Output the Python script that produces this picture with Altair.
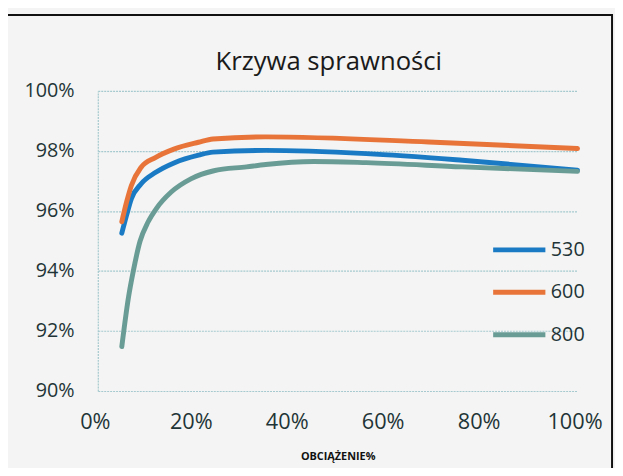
import altair as alt
import pandas as pd

# --- data ---
series_names = ["530", "600", "800"]
series_colors = ["#1a7bc4", "#e8743a", "#6a9c96"]

x530 = [5, 6, 7, 9, 12, 16, 21, 24, 35, 56, 76, 100]
y530 = [95.26, 95.86, 96.41, 96.9, 97.28, 97.61, 97.86, 97.96, 98.02, 97.91, 97.69, 97.36]

x600 = [5, 6, 7, 9, 12, 16, 21, 24, 35, 69, 100]
y600 = [95.64, 96.3, 96.85, 97.45, 97.78, 98.07, 98.29, 98.4, 98.47, 98.3, 98.08]

x800 = [5, 6.4, 7.4, 8.8, 10.5, 12.2, 15.3, 19.4, 24.2, 31, 35, 45, 56, 76, 100]
y800 = [91.48, 93.13, 94.0, 94.99, 95.64, 96.08, 96.63, 97.07, 97.34, 97.47, 97.55, 97.65, 97.61, 97.47, 97.32]

x_ticks = [0, 20, 40, 60, 80, 100]
y_ticks = [90, 92, 94, 96, 98, 100]

title_text = "Krzywa sprawności"
x_title = "OBCIĄŻENIE%"

rows = []
for name, xs, ys in zip(series_names, [x530, x600, x800], [y530, y600, y800]):
    for i, (xv, yv) in enumerate(zip(xs, ys)):
        rows.append({"seria": name, "obc": xv, "spr": yv, "i": i})
df = pd.DataFrame(rows)

FONT = "Open Sans"
TXT = "#1f3437"
GRID = "#a6c9cf"

lines = alt.Chart(df).mark_line(strokeWidth=5, interpolate="monotone", strokeCap="round").encode(
    x=alt.X("obc:Q", scale=alt.Scale(domain=[0, 100], nice=False),
            axis=alt.Axis(values=x_ticks, labelExpr="datum.value + '%'", title=x_title,
                          grid=False, domain=False, ticks=False,
                          labelFontSize=22, labelColor=TXT, labelFont=FONT,
                          labelPadding=21, labelOffset=-3, labelFlush=False,
                          titleFont=FONT, titleFontSize=11, titleFontWeight="bold",
                          titleColor="#111111", titleY=69, titleBaseline="alphabetic")),
    y=alt.Y("spr:Q", scale=alt.Scale(domain=[90, 100], nice=False, zero=False),
            axis=alt.Axis(values=y_ticks, labelExpr="datum.value + '%'", title=None,
                          grid=True, gridColor=GRID, gridDash=[2, 1], gridWidth=1.2,
                          domain=True, domainColor=GRID, domainDash=[2, 1], domainWidth=1.2,
                          ticks=False, labelFontSize=20, labelColor=TXT, labelFont=FONT,
                          labelPadding=24)),
    color=alt.Color("seria:N", scale=alt.Scale(domain=series_names, range=series_colors),
                    legend=alt.Legend(title=None, orient="none", legendX=398, legendY=132,
                                      symbolType="stroke", symbolSize=2800, symbolStrokeWidth=5,
                                      labelFontSize=20, labelFont=FONT, labelColor=TXT,
                                      labelOffset=3, rowPadding=4)),
    order="i:Q",
)

frame_df = pd.DataFrame({"f": [0]})
frame = alt.Chart(frame_df).mark_rect(filled=False, stroke="#111111", strokeWidth=2).encode(
    x=alt.value(-96), x2=alt.value(521), y=alt.value(-77), y2=alt.value(500)
)

chart = alt.layer(frame, lines).properties(
    width=486, height=304,
    autosize=alt.AutoSizeParams(type="none"),
    padding={"left": 91, "top": 81, "right": 38, "bottom": 75},
    background="#f3f4f3",
    title=alt.TitleParams(title_text, font=FONT, fontSize=26, fontWeight="normal",
                          color="#1a1a1a", anchor="middle", frame="group", dx=-9,
                          offset=-83, baseline="alphabetic"),
).configure_view(stroke=None)

chart.save("out.html", embed_options={"renderer": "svg", "actions": False})
